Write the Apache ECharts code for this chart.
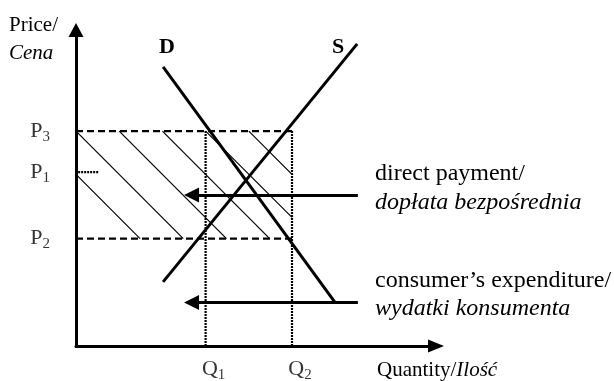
<!DOCTYPE html>
<html>
<head>
<meta charset="utf-8">
<script src="https://cdn.jsdelivr.net/npm/echarts@6/dist/echarts.min.js"></script>
<style>
html,body{margin:0;padding:0;background:#fff;}
#chart{width:614px;height:381px;}
</style>
</head>
<body>
<div id="chart"></div>
<script>
// ---- data (in chart units: quantity 0..100, price 0..100) ----
const priceLevels = [68, 55, 34];          // P3, P1, P2
const priceSubscripts = ['3', '1', '2'];
const quantityLevels = [36, 60];           // Q1, Q2
const quantitySubscripts = ['1', '2'];
const demandPoints = [[24.2, 88.3], [71.9, 13.9]];
const supplyPoints = [[24.2, 20.3], [78.1, 95.6]];
const hatchStarts = [[0, 68], [12, 68], [24, 68], [36, 68], [48, 68], [0, 54.3]];
const hatchEnds = [[29.8, 34], [41.8, 34], [53.8, 34], [60, 40.7], [60, 54.3], [17.8, 34]];
const p1MarkerX = [0.6, 6.4];
const paymentArrow = { y: 47.8, from: 78.3, to: 32.1 };
const expenditureArrow = { y: 13.8, from: 78.3, to: 32.1 };

const SERIF = '"Liberation Serif", "Times New Roman", serif';
const FS = 21;     // axis names
const FSR = 24;    // annotation texts

const chart = echarts.init(document.getElementById('chart'), null, { renderer: 'canvas' });

function seg(points, width, type, z) {
  return {
    type: 'line', data: points, symbol: 'none', silent: true, animation: false,
    lineStyle: { color: '#000', width: width, type: type || 'solid', cap: 'butt' },
    z: z || 2
  };
}

const series = [];
// hatching
hatchStarts.forEach((s, i) => series.push(seg([s, hatchEnds[i]], 1.2, 'solid', 1)));
// dashed price lines P3 and P2
const P3 = priceLevels[0], P1 = priceLevels[1], P2 = priceLevels[2];
const Q2 = quantityLevels[1];
series.push(seg([[0, P3], [Q2, P3]], 2.2, [7, 4], 2));
series.push(seg([[0, P2], [Q2, P2]], 2.2, [7, 4], 2));
// dotted quantity lines
quantityLevels.forEach(q => series.push(seg([[q, 0], [q, P3]], 2.2, [2, 1], 2)));
// P1 dotted marker
series.push(seg([[p1MarkerX[0], P1], [p1MarkerX[1], P1]], 2.2, [2, 1], 2));
// demand and supply
series.push(seg(demandPoints, 3, 'solid', 5));
series.push(seg(supplyPoints, 3, 'solid', 5));
// arrows
[paymentArrow, expenditureArrow].forEach(a => series.push({
  type: 'lines', coordinateSystem: 'cartesian2d', silent: true, animation: false, z: 6,
  symbol: ['none', 'triangle'], symbolSize: 15,
  lineStyle: { color: '#000', width: 3, opacity: 1, curveness: 0 },
  itemStyle: { color: '#000' },
  data: [{ coords: [[a.from, a.y], [a.to, a.y]] }]
}));

const subRich = {
  m: { fontFamily: SERIF, fontSize: 22, color: '#000', lineHeight: 24 },
  s: { fontFamily: SERIF, fontSize: 15, color: '#000', lineHeight: 15, padding: [12, 0, 0, 0] }
};
// price tick labels
series.push({
  type: 'scatter', symbolSize: 0, silent: true, animation: false,
  data: priceLevels.map((p, i) => ({ value: [0, p], sub: priceSubscripts[i] })),
  label: {
    show: true, position: 'left', distance: 26,
    formatter: (p) => '{m|P}{s|' + p.data.sub + '}', rich: subRich
  }
});
// quantity tick labels
series.push({
  type: 'scatter', symbolSize: 0, silent: true, animation: false,
  data: quantityLevels.map((q, i) => ({ value: [q, 0], sub: quantitySubscripts[i] })),
  label: {
    show: true, position: 'bottom', distance: 11, offset: [8, 0],
    formatter: (p) => '{m|Q}{s|' + p.data.sub + '}', rich: subRich
  }
});

function txt(x, y, text, size, opts) {
  return {
    type: 'text', x: x, y: y, silent: true, z: 10,
    style: Object.assign({
      text: text, fill: '#000', font: size + 'px ' + SERIF,
      align: 'left', verticalAlign: 'middle'
    }, opts || {})
  };
}

const option = {
  backgroundColor: '#fff',
  animation: false,
  grid: { left: 76, right: 178, top: 30, bottom: 35, containLabel: false },
  xAxis: {
    type: 'value', min: 0, max: 100,
    axisLine: { show: true, onZero: false, symbol: ['none', 'triangle'], symbolSize: [13, 16],
      lineStyle: { color: '#000', width: 3 } },
    axisTick: { show: false }, axisLabel: { show: false }, splitLine: { show: false }
  },
  yAxis: {
    type: 'value', min: 0, max: 100,
    axisLine: { show: true, onZero: false, symbol: ['none', 'triangle'], symbolSize: [15, 14],
      lineStyle: { color: '#000', width: 3 } },
    axisTick: { show: false }, axisLabel: { show: false }, splitLine: { show: false }
  },
  series: series,
  graphic: [
    txt(9, 25, 'Price/', FS),
    txt(9, 53, 'Cena', FS, { font: 'italic ' + FS + 'px ' + SERIF }),
    txt(167, 47, 'D', 22, { font: 'bold 22px ' + SERIF, align: 'center' }),
    txt(338, 47, 'S', 22, { font: 'bold 22px ' + SERIF, align: 'center' }),
    txt(375, 174, 'direct payment/', FSR),
    txt(375, 203, 'dopłata bezpośrednia', FSR, { font: 'italic ' + FSR + 'px ' + SERIF }),
    txt(375, 281, 'consumer’s expenditure/', FSR),
    txt(375, 309, 'wydatki konsumenta', FSR, { font: 'italic ' + FSR + 'px ' + SERIF }),
    {
      type: 'text', x: 377, y: 370, silent: true, z: 10,
      style: {
        text: '{n|Quantity/}{i|Ilość}', align: 'left', verticalAlign: 'middle',
        rich: {
          n: { fontFamily: SERIF, fontSize: FS, fill: '#000' },
          i: { fontFamily: SERIF, fontSize: FS, fontStyle: 'italic', fill: '#000' }
        }
      }
    }
  ]
};
chart.setOption(option);
</script>
</body>
</html>
